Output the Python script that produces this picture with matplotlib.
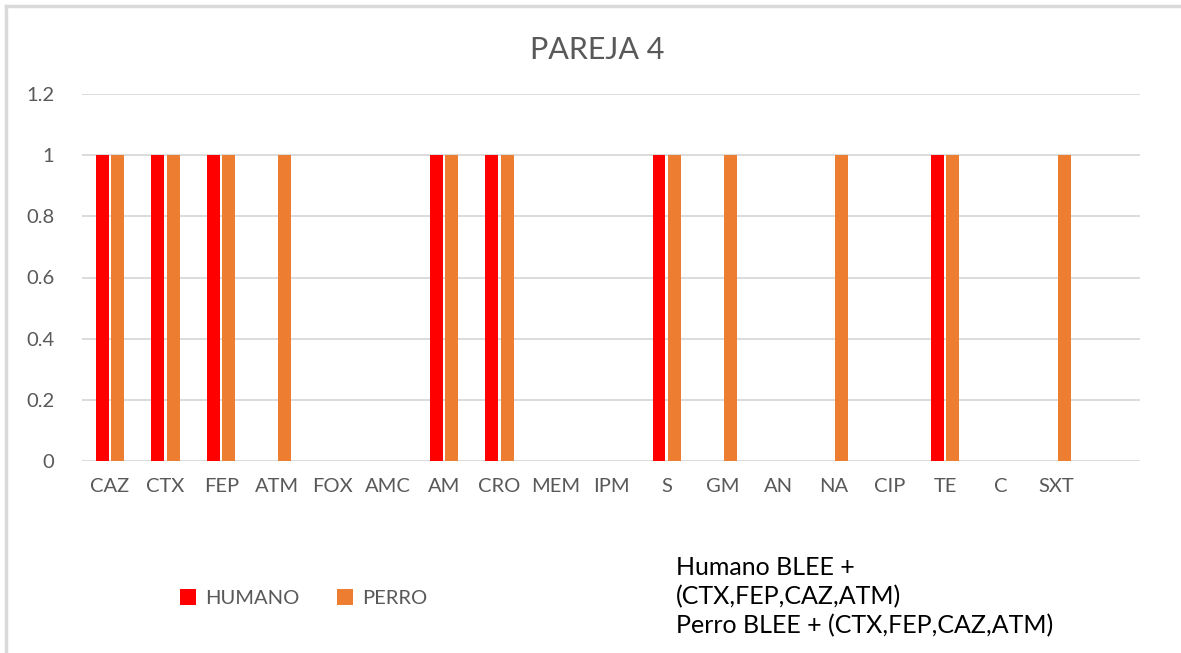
import matplotlib
matplotlib.use("Agg")
import matplotlib.pyplot as plt
import numpy as np

# Antibiotic panel and resistance flags (1 = resistant) for pair 4
categories = ["CAZ", "CTX", "FEP", "ATM", "FOX", "AMC", "AM", "CRO", "MEM",
              "IPM", "S", "GM", "AN", "NA", "CIP", "TE", "C", "SXT"]
humano = [1, 1, 1, 0, 0, 0, 1, 1, 0, 0, 1, 0, 0, 0, 0, 1, 0, 0]
perro = [1, 1, 1, 1, 0, 0, 1, 1, 0, 0, 1, 1, 0, 1, 0, 1, 0, 1]
series_names = ["HUMANO", "PERRO"]
yticks = [0, 0.2, 0.4, 0.6, 0.8, 1, 1.2]
ytick_labels = ["0", "0.2", "0.4", "0.6", "0.8", "1", "1.2"]
title = "PAREJA 4"
note = "Humano BLEE +\n(CTX,FEP,CAZ,ATM)\nPerro BLEE + (CTX,FEP,CAZ,ATM)"

RED = "#FF0000"
ORANGE = "#ED7D31"
GRAY = "#595959"
GRID = "#D9D9D9"

plt.rcParams["font.family"] = ["Lato", "DejaVu Sans"]

W, H = 1181, 653
fig = plt.figure(figsize=(W / 100, H / 100), dpi=100)
ax = fig.add_axes([82 / W, (H - 461) / H, (1140 - 82) / W, (461 - 94) / H])

x = np.arange(len(categories))
bw = 0.233
off = 0.138
hs = [v if v else np.nan for v in humano]
ps = [v if v else np.nan for v in perro]
ax.bar(x - off, hs, bw, color=RED, label=series_names[0], zorder=3)
ax.bar(x + off, ps, bw, color=ORANGE, label=series_names[1], zorder=3)

ax.set_xlim(-0.5, len(categories) + 0.5)
ax.set_ylim(0, 1.2)
ax.set_yticks(yticks)
ax.set_yticklabels(ytick_labels)
ax.set_xticks(x)
ax.set_xticklabels(categories)
ax.tick_params(axis="both", length=0, labelsize=14.5, labelcolor=GRAY)
ax.tick_params(axis="y", pad=20)
ax.tick_params(axis="x", pad=12)
ax.yaxis.grid(True, color=GRID, linewidth=1.3, zorder=0)
ax.set_axisbelow(True)
for s in ax.spines.values():
    s.set_visible(False)

fig.text(597 / W, 1 - 50 / H, title, ha="center", va="center",
         fontsize=22, color=GRAY)

leg = fig.legend(loc="center left", bbox_to_anchor=(162 / W, 1 - 598 / H),
                 ncol=2, frameon=False, fontsize=14.5, handlelength=0.8,
                 handleheight=0.8, handletextpad=0.45, columnspacing=1.85)
for t in leg.get_texts():
    t.set_color(GRAY)

fig.text(676 / W, 1 - 597 / H, note, ha="left", va="center",
         fontsize=18, color="black", linespacing=1.3)

# Chart area border (top and left edges visible)
fig.add_artist(plt.Line2D([6 / W, 1], [1 - 6 / H, 1 - 6 / H],
                          color=GRID, linewidth=2.5, transform=fig.transFigure))
fig.add_artist(plt.Line2D([6 / W, 6 / W], [0, 1 - 6 / H],
                          color=GRID, linewidth=2.5, transform=fig.transFigure))

fig.savefig("out.png", dpi=100, facecolor="white")
